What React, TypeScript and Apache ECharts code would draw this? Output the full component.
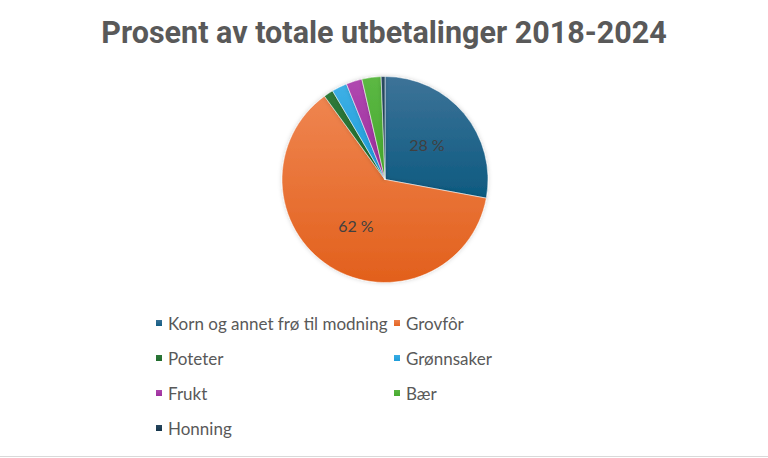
import { useEffect, useRef } from 'react'
import * as echarts from 'echarts'

const categories = [
  'Korn og annet frø til modning',
  'Grovfôr',
  'Poteter',
  'Grønnsaker',
  'Frukt',
  'Bær',
  'Honning',
]
const shares = [27.9, 62.1, 1.5, 2.4, 2.5, 3.0, 0.6]
const colorsTop = ['#3d7398', '#ef8550', '#2f7a3a', '#3eb0e6', '#b048b0', '#5cb844', '#2a4a62']
const colorsBottom = ['#0d5a80', '#e2601c', '#1e6a2c', '#1a9ad8', '#9a2c9a', '#44a82c', '#123248']
const leftLegend = ['Korn og annet frø til modning', 'Poteter', 'Frukt', 'Honning']
const rightLegend = ['Grovfôr', 'Grønnsaker', 'Bær']

export default function App() {
  const chartRef = useRef<HTMLDivElement>(null)

  useEffect(() => {
    if (!chartRef.current) return
    const chart = echarts.init(chartRef.current, null, { renderer: 'svg' })

    const legendBase = {
      orient: 'vertical',
      top: 309,
      icon: 'rect',
      itemWidth: 8,
      itemHeight: 8,
      itemGap: 17,
      textStyle: {
        fontFamily: 'Lato',
        fontSize: 17,
        color: '#595959',
        lineHeight: 18,
      },
    }

    const option: any = {
      animation: false,
      backgroundColor: '#ffffff',
      title: {
        text: 'Prosent av totale utbetalinger 2018-2024',
        left: 'center',
        top: 12,
        textStyle: {
          fontFamily: 'Roboto',
          fontWeight: 'bold',
          fontSize: 30.5,
          color: '#595959',
        },
      },
      legend: [
        { ...legendBase, left: 149, data: leftLegend },
        { ...legendBase, left: 387, data: rightLegend },
      ],
      series: [
        {
          type: 'pie',
          center: [385, 179.5],
          radius: 103,
          startAngle: 90,
          clockwise: true,
          itemStyle: {
            borderColor: '#ffffff',
            borderWidth: 0.5,
            shadowBlur: 4,
            shadowColor: 'rgba(0,0,0,0.18)',
          },
          label: {
            show: true,
            position: 'inside',
            fontFamily: 'Lato',
            fontSize: 16,
            color: '#404040',
            formatter: (p: any) => (p.value >= 10 ? `${Math.round(p.value)} %` : ''),
          },
          labelLine: { show: false },
          emphasis: { disabled: true },
          data: categories.map((name, i) => ({
            name,
            value: shares[i],
            itemStyle: {
              color: new echarts.graphic.LinearGradient(0, 0, 0, 1, [
                { offset: 0, color: colorsTop[i] },
                { offset: 1, color: colorsBottom[i] },
              ]),
            },
          })),
        },
      ],
      graphic: [
        {
          type: 'line',
          shape: { x1: 0, y1: 456.5, x2: 768, y2: 456.5 },
          style: { stroke: '#d9d9d9', lineWidth: 1 },
        },
      ],
    }

    chart.setOption(option)
    return () => {
      chart.dispose()
    }
  }, [])

  return (
    <div
      ref={chartRef}
      style={{ position: 'absolute', left: 0, top: 0, width: '768px', height: '458px' }}
    />
  )
}
